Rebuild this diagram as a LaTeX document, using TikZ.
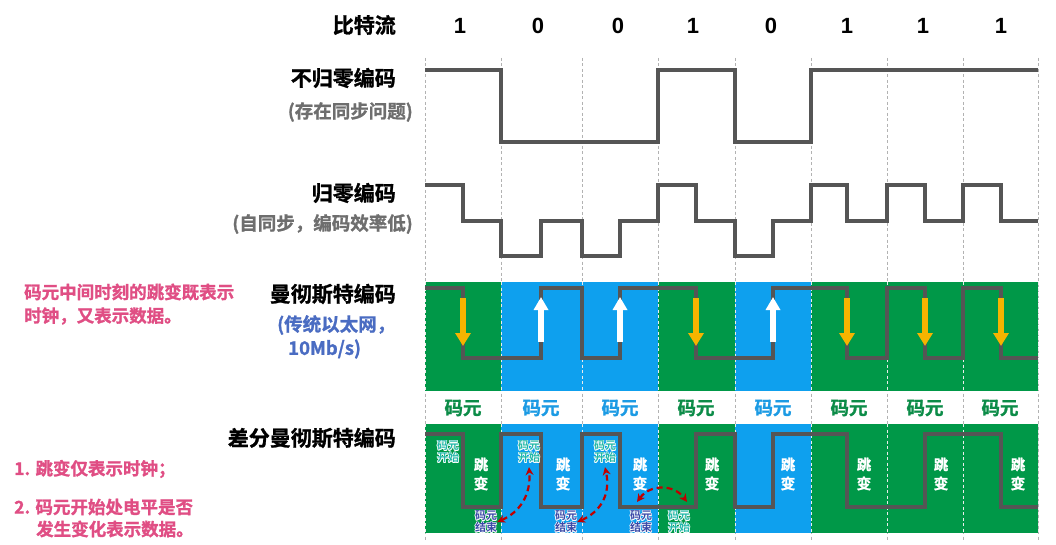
\documentclass[tikz,border=0pt]{standalone}
\usepackage{fontspec}
\setmainfont{Noto Sans CJK SC}[BoldFont=* Bold,BoldFeatures={FakeBold=1.2}]
\newfontfamily\smallcjk{Noto Sans CJK SC}[BoldFont=* Bold]
\newfontfamily\latinf{Liberation Sans}
\usetikzlibrary{arrows.meta,calc}
\definecolor{sigc}{HTML}{555555}
\definecolor{mgreen}{RGB}{0,152,72}
\definecolor{mblue}{RGB}{14,160,238}
\definecolor{tgreen}{RGB}{12,140,72}
\definecolor{tblue}{RGB}{28,155,228}
\definecolor{pinkt}{HTML}{E04E84}
\definecolor{bluet}{HTML}{4A6CC2}
\definecolor{grayt}{HTML}{6E6E6E}
\definecolor{arrowy}{HTML}{F5B400}
\definecolor{darkred}{HTML}{C00000}
\definecolor{startc}{HTML}{22B8A8}
\definecolor{endc}{HTML}{3A4AA8}
\newcommand\halolabel[4]{%
  \foreach \hx/\hy in {0.7/0,-0.7/0,0/0.7,0/-0.7,0.5/0.5,-0.5/0.5,0.5/-0.5,-0.5/-0.5}{%
    \node[smalllab,text=white] at ([shift={(\hx,\hy)}]#2) {#4};}
  \node[smalllab,text=#3] (#1) at (#2) {#4};}
\begin{document}
\begin{tikzpicture}[x=1pt,y=-1pt,
  sig/.style={draw=sigc,line width=4.5pt,line join=miter},
  coldash/.style={draw=gray!60,line width=0.8pt,dash pattern=on 3pt off 2.5pt},
  banddash/.style={draw=white!85!gray,line width=0.8pt,dash pattern=on 3pt off 2.5pt},
  biglab/.style={font=\bfseries\fontsize{21}{25}\selectfont,inner sep=0,anchor=east},
  graylab/.style={font=\bfseries\fontsize{18.5}{22}\selectfont,inner sep=0,anchor=east,text=grayt},
  pinklab/.style={font=\bfseries\fontsize{17.5}{22}\selectfont,inner sep=0,anchor=west,text=pinkt},
  bluelab/.style={font=\bfseries\fontsize{18.5}{22}\selectfont,inner sep=0,anchor=west,text=bluet},
  bitlab/.style={font=\latinf\bfseries\fontsize{22}{26}\selectfont,inner sep=0},
  unitlab/.style={font=\bfseries\fontsize{18.5}{22}\selectfont,inner sep=0},
  jumplab/.style={font=\bfseries\fontsize{14.5}{19}\selectfont,inner sep=0,align=center,text=white},
  smalllab/.style={font=\smallcjk\bfseries\fontsize{11}{12}\selectfont,inner sep=0,align=center},
  yarrow/.style={draw=arrowy,line width=6pt,-{Triangle[width=15pt,length=13pt]}},
  warrow/.style={draw=white,line width=5.5pt,-{Triangle[width=14pt,length=13pt]}},
  redarr/.style={draw=darkred,line width=2.2pt,dash pattern=on 6pt off 4pt,
    {Stealth[length=8pt,width=8pt]}-{Stealth[length=8pt,width=8pt]}}]
\useasboundingbox (0,0) rectangle (1056,545);
\fill[white] (0,0) rectangle (1056,545);

% column separators
\foreach \x in {425,501,582,658,735,811,887,963,1038}
  \draw[coldash] (\x,58) -- (\x,540);

% colour bands (bit 1 green, bit 0 blue)
\foreach \a/\b/\c in {425/501/mgreen,501/582/mblue,582/658/mblue,658/735/mgreen,735/811/mblue,811/887/mgreen,887/963/mgreen,963/1038/mgreen}{
  \fill[\c] (\a,282) rectangle (\b,391);
  \fill[\c] (\a,424) rectangle (\b,533);}
\foreach \x in {425,501,582,658,735,811,887,963,1038}{
  \draw[banddash] (\x,282) -- (\x,391);
  \draw[banddash] (\x,424) -- (\x,533);}

% header
\node[biglab] (hbits) at (396,25) {比特流};
\node[bitlab] (b1) at (460,26) {1};
\node[bitlab] (b2) at (538,26) {0};
\node[bitlab] (b3) at (618,26) {0};
\node[bitlab] (b4) at (693,26) {1};
\node[bitlab] (b5) at (771,26) {0};
\node[bitlab] (b6) at (847,26) {1};
\node[bitlab] (b7) at (923,26) {1};
\node[bitlab] (b8) at (1001,26) {1};

% row labels
\node[biglab] (lnrz) at (396,78) {不归零编码};
\node[graylab] (lnrz2) at (413,112) {(存在同步问题)};
\node[biglab] (lrz) at (396,193) {归零编码};
\node[graylab] (lrz2) at (413,224) {(自同步，编码效率低)};
\node[biglab] (lman) at (396,294) {曼彻斯特编码};
\node[bluelab] (lman2) at (277,325) {(传统以太网，};
\node[bluelab] (lman3) at (288,349) {10Mb/s)};
\node[biglab] (ldif) at (396,438) {差分曼彻斯特编码};

% pink notes
\node[pinklab] (p1) at (24,292) {码元中间时刻的跳变既表示};
\node[pinklab] (p2) at (24,316) {时钟，又表示数据。};
\node[pinklab] (q1) at (14,469) {1. 跳变仅表示时钟；};
\node[pinklab] (q2) at (14,507) {2. 码元开始处电平是否};
\node[pinklab] (q3) at (36,529) {发生变化表示数据。};

% NRZ
\draw[sig] (425,70)--(501,70)--(501,142)--(658,142)--(658,70)--(735,70)--(735,142)--(811,142)--(811,70)--(1038,70);
% RZ
\draw[sig] (425,185)--(463,185)--(463,221)--(501,221)--(501,256)--(541,256)--(541,221)--(582,221)--(582,256)--(620,256)--(620,221)--(658,221)--(658,185)--(696,185)--(696,221)--(735,221)--(735,256)--(773,256)--(773,221)--(811,221)--(811,185)--(847,185)--(847,221)--(887,221)--(887,185)--(925,185)--(925,221)--(963,221)--(963,185)--(1001,185)--(1001,221)--(1038,221);
% Manchester
\draw[sig] (425,288)--(463,288)--(463,358)--(541,358)--(541,288)--(582,288)--(582,358)--(620,358)--(620,288)--(696,288)--(696,358)--(773,358)--(773,288)--(847,288)--(847,358)--(887,358)--(887,288)--(925,288)--(925,358)--(963,358)--(963,288)--(1001,288)--(1001,358)--(1038,358);
\foreach \x in {463,696,847,925,1001}
  \draw[yarrow] (\x,298) -- (\x,346);
\foreach \x in {541,620,773}
  \draw[warrow] (\x,342) -- (\x,297);

% code unit labels
\node[unitlab,text=tgreen] (u1) at (463,408) {码元};
\node[unitlab,text=tblue] (u2) at (541,408) {码元};
\node[unitlab,text=tblue] (u3) at (620,408) {码元};
\node[unitlab,text=tgreen] (u4) at (696,408) {码元};
\node[unitlab,text=tblue] (u5) at (773,408) {码元};
\node[unitlab,text=tgreen] (u6) at (849,408) {码元};
\node[unitlab,text=tgreen] (u7) at (925,408) {码元};
\node[unitlab,text=tgreen] (u8) at (1000,408) {码元};

% Differential Manchester
\draw[sig] (425,434)--(463,434)--(463,507)--(501,507)--(501,434)--(541,434)--(541,507)--(582,507)--(582,434)--(620,434)--(620,507)--(696,507)--(696,434)--(735,434)--(735,507)--(773,507)--(773,434)--(847,434)--(847,507)--(925,507)--(925,434)--(1001,434)--(1001,507)--(1038,507);

\node[jumplab] (j1) at (481,474) {跳\\变};
\node[jumplab] (j2) at (563,474) {跳\\变};
\node[jumplab] (j3) at (640,474) {跳\\变};
\node[jumplab] (j4) at (712,474) {跳\\变};
\node[jumplab] (j5) at (788,474) {跳\\变};
\node[jumplab] (j6) at (864,474) {跳\\变};
\node[jumplab] (j7) at (941,474) {跳\\变};
\node[jumplab] (j8) at (1018,474) {跳\\变};

\halolabel{s1}{448,452}{startc}{码元\\开始}
\halolabel{s2}{529,452}{startc}{码元\\开始}
\halolabel{s3}{605,452}{startc}{码元\\开始}
\halolabel{e1}{486,522}{endc}{码元\\结束}
\halolabel{e2}{566,522}{endc}{码元\\结束}
\halolabel{e3}{641,522}{endc}{码元\\结束}
\halolabel{s4}{679,522}{startc}{码元\\开始}

\coordinate (c3a) at (637,502);
\coordinate (c4a) at (687,502);
\draw[redarr] (e1.east) .. controls (520,512) and (531,495) .. ([yshift=-4pt]s2.south);
\draw[redarr] (e2.east) .. controls (600,512) and (611,495) .. ([yshift=-4pt]s3.south);
\draw[redarr] (c3a) .. controls (650,484) and (674,484) .. (c4a);
\end{tikzpicture}
\end{document}
